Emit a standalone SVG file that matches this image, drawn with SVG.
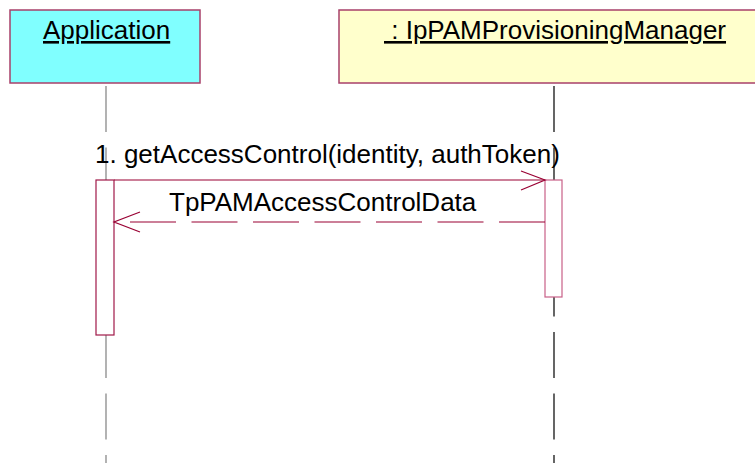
<svg xmlns="http://www.w3.org/2000/svg" width="755" height="463" viewBox="0 0 755 463">
<style>
.t{font-family:"Liberation Sans",Arial,sans-serif;font-size:26px;fill:#000}
.u{text-decoration:underline}
.box{stroke:#A8406A;stroke-width:1.5}
.act{fill:#fff;stroke-width:1.2}
.msg{stroke:#990033;stroke-width:1.2;fill:none}
.life{stroke-width:1.2;stroke-dasharray:46 15.5;fill:none}
</style>
<rect width="755" height="463" fill="#fff"/>
<g id="lifelines">
<line class="life" x1="106" y1="86" x2="106" y2="463" stroke="#808080"/>
<line class="life" x1="554" y1="86" x2="554" y2="463" stroke="#000"/>
</g>
<g id="application">
<rect class="box" x="10" y="10" width="190" height="73" fill="#80FFFF"/>
<text class="t u" x="43" y="39">Application</text>
</g>
<g id="provisioningManager">
<rect class="box" x="339" y="10" width="430" height="73" fill="#FFFFCC"/>
<text class="t u" x="384" y="39" xml:space="preserve"> : IpPAMProvisioningManager</text>
</g>
<g id="activation-application">
<rect class="act" x="96" y="180" width="18" height="155" stroke="#A01848"/>
</g>
<g id="activation-provisioning">
<rect class="act" x="545" y="180" width="17" height="117" stroke="#C86088"/>
</g>
<g id="connectors">
<line class="msg" x1="114" y1="180" x2="545" y2="180"/>
<polyline class="msg" points="521,171 545,180 521,190"/>
<line class="msg" x1="545" y1="222" x2="114" y2="222" stroke-dasharray="46 15.5" stroke="#C06088"/>
<polyline class="msg" points="140,212 114,222 140,232"/>
<text class="t" x="95" y="163">1. getAccessControl(identity, authToken)</text>
<text class="t" x="169" y="211">TpPAMAccessControlData</text>
</g>
</svg>
